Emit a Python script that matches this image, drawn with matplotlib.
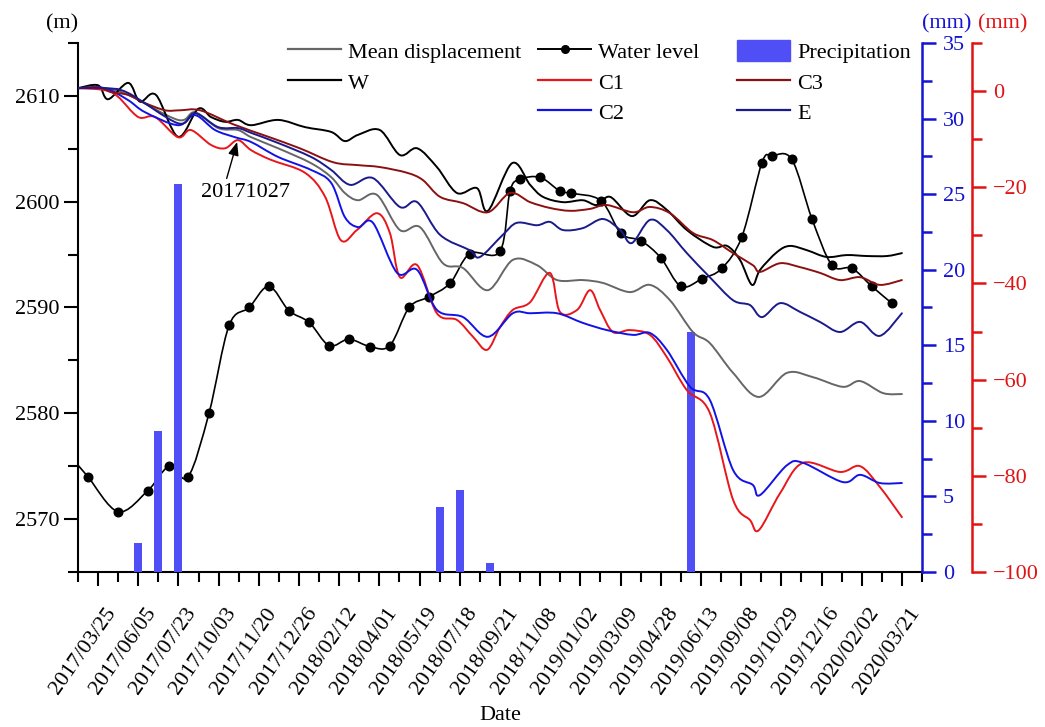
import numpy as np
import matplotlib
matplotlib.use("Agg")
import matplotlib.pyplot as plt
import matplotlib.transforms as mtransforms
from matplotlib.lines import Line2D
from matplotlib.patches import Patch, PathPatch
from matplotlib.path import Path
from matplotlib.ticker import MultipleLocator

plt.rcParams["font.family"] = ["Liberation Serif", "DejaVu Serif"]
plt.rcParams["font.size"] = 16

# monitoring dates (evenly spaced on the axis)
dates = ["2017/03/25", "2017/06/05", "2017/07/23", "2017/10/03", "2017/11/20",
         "2017/12/26", "2018/02/12", "2018/04/01", "2018/05/19", "2018/07/18",
         "2018/09/21", "2018/11/08", "2019/01/02", "2019/03/09", "2019/04/28",
         "2019/06/13", "2019/09/08", "2019/10/29", "2019/12/16", "2020/02/02",
         "2020/03/21"]

# reservoir water level (m)
wl_x = [-0.5, -0.25, 0.50, 1.24, 1.77, 2.24, 2.76, 3.26, 3.76, 4.25,
        4.75, 5.25, 5.75, 6.24, 6.77, 7.26, 7.74, 8.23, 8.76, 9.25,
        10.0, 10.25, 10.5, 11.0, 11.49, 11.77, 12.51, 13.01, 13.51, 14.0,
        14.5, 15.02, 15.52, 16.02, 16.52, 16.77, 17.26, 17.76, 18.26, 18.76,
        19.25, 19.75]
wl_m = [2575.1, 2574.0, 2570.7, 2572.7, 2575.0, 2574.0, 2580.0, 2588.3, 2590.0, 2592.0,
        2589.7, 2588.6, 2586.4, 2587.0, 2586.3, 2586.4, 2590.0, 2591.0, 2592.3, 2595.1,
        2595.3, 2601.0, 2602.1, 2602.3, 2601.0, 2600.8, 2600.1, 2597.0, 2596.3, 2594.7,
        2592.0, 2592.7, 2593.7, 2596.7, 2603.7, 2604.3, 2604.0, 2598.4, 2594.0, 2593.7,
        2592.0, 2590.4]

# precipitation (mm)
pr_x = [1.0, 1.5, 2.0, 8.5, 9.0, 9.75, 14.75]
pr_mm = [1.9, 9.3, 25.7, 4.3, 5.4, 0.6, 15.9]

# displacement (mm)
mean_x = [-0.5, 0.17, 0.75, 1.99, 2.41, 2.99, 3.48, 3.81, 4.48, 5.30,
          5.80, 6.14, 6.47, 6.94, 7.51, 8.01, 8.58, 9.08, 9.70, 10.32,
          10.92, 11.42, 12.06, 12.56, 13.23, 13.73, 14.23, 14.80, 15.22, 15.80,
          16.44, 17.14, 17.79, 18.53, 18.96, 19.53, 20.0]
mean_v = [0.6, 0.6, -0.8, -6.0, -4.4, -7.7, -8.1, -9.6, -11.9, -15.0,
          -17.9, -21.2, -22.7, -21.6, -28.9, -28.3, -35.8, -36.8, -41.4, -35.1,
          -36.2, -39.3, -39.3, -39.9, -41.8, -40.3, -43.5, -50.1, -52.4, -58.6,
          -63.6, -58.6, -59.5, -61.5, -60.3, -62.8, -63.0]

w_x = [-0.5, 0.0, 0.25, 0.75, 1.04, 1.44, 1.99, 2.49, 2.81, 3.16,
       3.48, 3.81, 4.48, 5.15, 5.80, 6.14, 6.47, 7.01, 7.51, 7.94,
       8.43, 8.93, 9.43, 9.70, 10.30, 10.75, 11.07, 11.57, 12.06, 12.41,
       12.74, 13.28, 13.73, 14.15, 14.65, 15.30, 15.65, 15.97, 16.27, 16.47,
       16.89, 17.21, 17.64, 18.13, 18.63, 19.13, 19.63, 20.0]
w_v = [0.6, 1.2, -1.7, 1.7, -2.2, -0.8, -9.5, -3.7, -5.4, -6.4,
       -6.0, -7.1, -6.0, -7.5, -8.5, -10.4, -9.1, -8.1, -13.3, -11.9,
       -15.8, -21.2, -20.2, -24.9, -15.0, -19.5, -22.0, -23.1, -22.7, -23.7,
       -22.0, -26.0, -22.7, -24.7, -28.9, -32.4, -32.2, -35.1, -40.3, -37.2,
       -33.5, -32.2, -33.1, -34.5, -34.1, -34.3, -34.3, -33.7]

c1_x = [-0.5, 0.17, 0.50, 1.0, 1.42, 1.99, 2.31, 2.81, 3.16, 3.48,
        3.81, 4.30, 5.15, 5.65, 6.04, 6.44, 6.94, 7.26, 7.51, 7.94,
        8.43, 8.93, 9.33, 9.68, 10.0, 10.32, 10.75, 11.24, 11.49, 11.92,
        12.24, 12.49, 12.81, 13.23, 13.73, 14.15, 14.65, 15.22, 15.80, 16.22,
        16.44, 16.97, 17.54, 18.46, 18.96, 19.45, 20.0]
c1_v = [0.6, 0.2, -1.2, -5.4, -5.4, -9.6, -8.1, -11.2, -11.9, -10.2,
        -12.3, -14.3, -17.0, -22.0, -31.0, -28.9, -25.4, -29.5, -38.7, -36.2,
        -46.2, -47.6, -51.1, -53.8, -49.1, -45.5, -43.9, -37.8, -45.9, -45.5,
        -41.4, -45.5, -50.1, -49.7, -50.7, -55.3, -62.2, -66.9, -85.0, -89.2,
        -91.3, -83.6, -77.3, -79.2, -78.0, -82.3, -88.6]

c2_x = [-0.5, 0.17, 0.75, 1.17, 1.99, 2.41, 2.91, 3.41, 3.81, 4.48,
        5.30, 5.80, 6.14, 6.47, 6.84, 7.44, 7.94, 8.43, 9.08, 9.70,
        10.32, 10.75, 11.42, 12.06, 12.66, 13.31, 13.73, 14.15, 14.73, 15.22,
        15.80, 16.29, 16.47, 17.14, 17.54, 18.53, 18.96, 19.45, 20.0]
c2_v = [0.6, 0.6, -1.9, -4.4, -7.1, -5.0, -8.1, -9.6, -10.6, -13.7,
        -16.4, -19.1, -26.2, -28.3, -27.4, -37.8, -37.2, -45.5, -47.0, -51.1,
        -46.2, -46.2, -46.2, -48.2, -49.7, -50.7, -50.3, -53.8, -61.5, -64.2,
        -78.8, -81.9, -84.0, -77.8, -77.3, -81.3, -79.8, -81.5, -81.5]

c3_x = [-0.5, 0.0, 0.32, 0.75, 1.17, 1.67, 2.04, 2.54, 3.36, 4.20,
        5.02, 5.85, 6.47, 7.01, 7.69, 8.08, 8.51, 9.08, 9.70, 10.25,
        10.75, 11.24, 11.74, 12.24, 12.66, 13.31, 13.73, 14.23, 14.80, 15.30,
        15.80, 16.29, 16.47, 16.97, 17.46, 17.96, 18.46, 18.96, 19.45, 20.0]
c3_v = [0.6, 0.8, -0.2, -0.8, -2.5, -4.0, -4.0, -4.0, -6.9, -9.4,
        -11.9, -14.8, -15.4, -15.8, -17.0, -18.5, -22.0, -23.3, -25.2, -21.2,
        -23.1, -24.3, -24.9, -24.5, -23.7, -25.2, -24.1, -25.4, -29.5, -31.0,
        -33.7, -36.2, -37.6, -35.8, -36.6, -37.8, -39.3, -38.7, -40.3, -39.3]

e_x = [-0.5, 0.17, 0.75, 1.99, 2.41, 2.99, 3.48, 3.81, 4.48, 5.30,
       5.80, 6.27, 6.84, 7.51, 7.94, 8.51, 9.25, 9.50, 10.07, 10.42,
       10.92, 11.24, 11.57, 12.06, 12.56, 12.99, 13.28, 13.73, 14.15, 14.65,
       15.22, 15.80, 16.22, 16.52, 16.97, 17.46, 17.96, 18.46, 18.96, 19.45, 20.0]
e_v = [0.6, 0.6, -0.4, -6.7, -4.6, -7.5, -7.7, -8.7, -10.8, -13.7,
       -16.4, -19.5, -18.1, -24.1, -23.1, -29.9, -33.1, -34.5, -29.9, -27.4,
       -27.9, -27.2, -28.9, -28.5, -26.6, -28.9, -31.6, -26.8, -28.9, -33.7,
       -38.7, -43.5, -44.5, -47.0, -44.1, -45.9, -48.0, -50.1, -48.0, -50.9, -46.2]

BLUE_AX = "#1414d2"
RED_AX = "#e01414"
C_MEAN = "#666666"
C_C1 = "#e8161b"
C_C2 = "#1212e6"
C_C3 = "#8c1010"
C_E = "#1a1a8c"
C_BAR = "#4f4ff5"


def spline_path(xs, ys):
    # cubic Bezier segments through the points (Catmull-Rom tangents)
    p = np.column_stack([xs, ys]).astype(float)
    n = len(p)
    verts = [p[0]]
    codes = [Path.MOVETO]
    for i in range(n - 1):
        a = p[max(i - 1, 0)]
        b = p[i]
        c = p[i + 1]
        d = p[min(i + 2, n - 1)]
        verts += [b + (c - a) / 6.0, c - (d - b) / 6.0, c]
        codes += [Path.CURVE4] * 3
    return Path(verts, codes)


def curve(axis, xs, ys, color, lw=1.4, z=3):
    axis.add_patch(PathPatch(spline_path(xs, ys), fill=False, edgecolor=color,
                             lw=lw, zorder=z, capstyle="round",
                             joinstyle="round"))


fig = plt.figure(figsize=(10.45, 7.27), dpi=100)
ax = fig.add_axes([0.0746, 0.2132, 0.8077, 0.7277])
ax_b = ax.twinx()
ax_r = ax.twinx()

# water level on the left axis
curve(ax, wl_x, wl_m, "k", lw=1.2)
ax.plot(wl_x[1:], wl_m[1:], ls="none", color="k", marker="o", ms=6.2, zorder=4)
ax.set_xlim(-0.5, 20.5)
ax.set_ylim(2565, 2615)
ax.set_yticks([2570, 2580, 2590, 2600, 2610])
ax.yaxis.set_minor_locator(MultipleLocator(5))
ax.set_xticks(range(len(dates)))
ax.set_xticklabels(dates, rotation=55, ha="right", va="center",
                   rotation_mode="anchor")
ax.xaxis.set_minor_locator(MultipleLocator(0.5))
ax.tick_params(which="major", direction="out", length=10, width=1.5)
ax.tick_params(which="minor", direction="out", length=7, width=1.5)
shift = mtransforms.ScaledTranslation(0.14, -0.19, fig.dpi_scale_trans)
for lab in ax.get_xticklabels():
    lab.set_transform(lab.get_transform() + shift)
for side in ("top", "right"):
    ax.spines[side].set_visible(False)
for side in ("left", "bottom"):
    ax.spines[side].set_linewidth(1.5)
ax.text(-16 / 844, 1.036, "(m)", transform=ax.transAxes, ha="center", va="center")
ax.set_xlabel("Date", labelpad=6)

# precipitation bars on the first right axis
ax_b.bar(pr_x, pr_mm, width=0.2, color=C_BAR, zorder=2)
ax_b.set_ylim(0, 35)
ax_b.set_yticks([0, 5, 10, 15, 20, 25, 30, 35])
ax_b.yaxis.set_minor_locator(MultipleLocator(2.5))
for side in ("top", "left", "bottom"):
    ax_b.spines[side].set_visible(False)
ax_b.spines["right"].set_color(BLUE_AX)
ax_b.spines["right"].set_linewidth(1.8)
ax_b.tick_params(which="both", colors=BLUE_AX, direction="out", width=1.8, pad=5)
ax_b.tick_params(which="major", length=10)
ax_b.tick_params(which="minor", length=7)
ax_b.text(1.0296, 1.036, "(mm)", transform=ax_b.transAxes, ha="center",
          va="center", color=BLUE_AX)

# displacement curves on the outer right axis
ax_r.spines["right"].set_position(("outward", 36))
for side in ("top", "left", "bottom"):
    ax_r.spines[side].set_visible(False)
curve(ax_r, mean_x, mean_v, C_MEAN)
curve(ax_r, w_x, w_v, "k")
curve(ax_r, c1_x, c1_v, C_C1)
curve(ax_r, c2_x, c2_v, C_C2)
curve(ax_r, c3_x, c3_v, C_C3)
curve(ax_r, e_x, e_v, C_E)
ax_r.set_ylim(-100, 10)
ax_r.set_yticks([-100, -80, -60, -40, -20, 0])
ax_r.yaxis.set_minor_locator(MultipleLocator(10))
ax_r.spines["right"].set_color(RED_AX)
ax_r.spines["right"].set_linewidth(1.8)
ax_r.tick_params(which="both", colors=RED_AX, direction="out", width=1.8, pad=5)
ax_r.tick_params(which="major", length=10)
ax_r.tick_params(which="minor", length=7)
ax_r.text(1.096, 1.036, "(mm)", transform=ax_r.transAxes, ha="center",
          va="center", color=RED_AX)

ax_r.annotate("20171027", xy=(3.46, -10.6), xytext=(3.68, -21.0),
              ha="center", va="center",
              arrowprops=dict(arrowstyle="-|>,head_length=0.5,head_width=0.2",
                              color="k", lw=1.0, shrinkA=1, shrinkB=0,
                              relpos=(0.27, 1.0)))

# legend in three hand-placed columns
leg_kw = dict(frameon=False, loc="upper left", borderaxespad=0, borderpad=0,
              handlelength=2.4, handleheight=1.1, handletextpad=0.3,
              labelspacing=0.33, fontsize=16)
col1 = [Line2D([], [], color=C_MEAN, lw=1.6), Line2D([], [], color="k", lw=1.6)]
col2 = [Line2D([], [], color="k", lw=1.4, marker="o", ms=5.5),
        Line2D([], [], color=C_C1, lw=1.6), Line2D([], [], color=C_C2, lw=1.6)]
col3 = [Patch(color=C_BAR), Line2D([], [], color=C_C3, lw=1.6),
        Line2D([], [], color=C_E, lw=1.6)]
top = 1 - 40 / 727
fig.legend(col1, ["Mean displacement", "W"],
           bbox_to_anchor=(288 / 1045, top), **leg_kw)
fig.legend(col2, ["Water level", "C1", "C2"],
           bbox_to_anchor=(538 / 1045, top), **leg_kw)
fig.legend(col3, ["Precipitation", "C3", "E"],
           bbox_to_anchor=(737 / 1045, top), **leg_kw)

fig.savefig("out.png", dpi=100)
